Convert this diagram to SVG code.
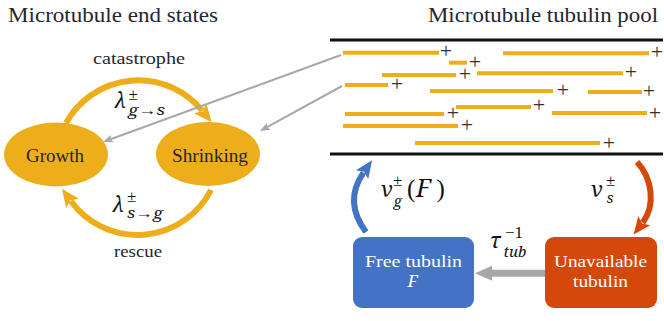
<svg xmlns="http://www.w3.org/2000/svg" width="664" height="321" viewBox="0 0 664 321">
<style>
text{font-family:'Liberation Serif',serif}
.t{fill:#1f2632}
.m{font-family:'Noto Serif','Liberation Serif',serif;font-style:italic;fill:#111}
.up{font-family:'Liberation Serif',serif;font-style:normal}
.w{fill:#fff}
.bar{stroke:#EEAE1B;stroke-width:4;fill:none}
.plus{font-size:22px;fill:#333;text-anchor:middle}
.gold{fill:#EEAE1B}
</style>
<defs>
<marker id="ahGold" viewBox="-4 -9 20 18" markerWidth="20" markerHeight="18" refX="0" refY="0" markerUnits="userSpaceOnUse" orient="auto"><path d="M -3,-8 L 15,0 L -3,8 L 1,0 z" fill="#EEAE1B"/></marker>
<marker id="ahBlue" viewBox="-4 -9 20 18" markerWidth="20" markerHeight="18" refX="0" refY="0" markerUnits="userSpaceOnUse" orient="auto"><path d="M -2.5,-7.5 L 15,0 L -2.5,7.5 L 1,0 z" fill="#4472C4"/></marker>
<marker id="ahOrange" viewBox="-4 -9 20 18" markerWidth="20" markerHeight="18" refX="0" refY="0" markerUnits="userSpaceOnUse" orient="auto"><path d="M -2.5,-7.5 L 15,0 L -2.5,7.5 L 1,0 z" fill="#D5480B"/></marker>
<marker id="ahGray" viewBox="-3 -5 12 10" markerWidth="12" markerHeight="10" refX="0" refY="0" markerUnits="userSpaceOnUse" orient="auto"><path d="M -2,-4 L 8,0 L -2,4 L 0,0 z" fill="#A8A8A8"/></marker>
<marker id="ahGrayBig" viewBox="-1 -8 19 16" markerWidth="19" markerHeight="16" refX="0" refY="0" markerUnits="userSpaceOnUse" orient="auto"><path d="M 0,-7.5 L 17,0 L 0,7.5 z" fill="#A8A8A8"/></marker>
</defs>
<rect width="664" height="321" fill="#fff"/>

<text class="t" x="8" y="22" font-size="21" textLength="210" lengthAdjust="spacingAndGlyphs">Microtubule end states</text>
<text class="t" x="428" y="22" font-size="21" textLength="230" lengthAdjust="spacingAndGlyphs">Microtubule tubulin pool</text>

<g id="tubulin-pool">
<line x1="330" y1="40" x2="663" y2="40" stroke="#111" stroke-width="3"/>
<line x1="330" y1="154" x2="663" y2="154" stroke="#111" stroke-width="3"/>
<line class="bar" x1="343" y1="52.7" x2="439" y2="52.7"/>
<line class="bar" x1="503" y1="53.3" x2="649" y2="53.3"/>
<line class="bar" x1="449" y1="62.7" x2="467" y2="62.7"/>
<line class="bar" x1="382" y1="75" x2="456" y2="75"/>
<line class="bar" x1="477" y1="73.3" x2="623" y2="73.3"/>
<line class="bar" x1="345" y1="85" x2="388" y2="85"/>
<line class="bar" x1="430" y1="91" x2="553" y2="91"/>
<line class="bar" x1="588" y1="92" x2="642" y2="92"/>
<line class="bar" x1="456" y1="107" x2="531" y2="107"/>
<line class="bar" x1="345" y1="114" x2="444" y2="114"/>
<line class="bar" x1="552" y1="113" x2="647" y2="113"/>
<line class="bar" x1="343" y1="126" x2="458" y2="126"/>
<line class="bar" x1="415" y1="143" x2="600" y2="143"/>
<text class="plus" x="446" y="57.6">+</text>
<text class="plus" x="657" y="58.6">+</text>
<text class="plus" x="475" y="68.6">+</text>
<text class="plus" x="465" y="80.6">+</text>
<text class="plus" x="631" y="78.6">+</text>
<text class="plus" x="397" y="90.6">+</text>
<text class="plus" x="563" y="96.6">+</text>
<text class="plus" x="649" y="97.6">+</text>
<text class="plus" x="539" y="111.6">+</text>
<text class="plus" x="453" y="119.6">+</text>
<text class="plus" x="655" y="119.6">+</text>
<text class="plus" x="467" y="131.6">+</text>
<text class="plus" x="609" y="149.6">+</text>
</g>

<g id="connectors" fill="none">
<path d="M 66 123 A 82.5 82.5 0 0 1 202.1 110.6" stroke="#EEAE1B" stroke-width="6" marker-end="url(#ahGold)"/>
<path d="M 211 190 A 82.5 82.5 0 0 1 70.8 201" stroke="#EEAE1B" stroke-width="6" marker-end="url(#ahGold)"/>
<line x1="341" y1="55" x2="110.5" y2="139.3" stroke="#A8A8A8" stroke-width="2" marker-end="url(#ahGray)"/>
<line x1="342" y1="86" x2="267" y2="127.2" stroke="#A8A8A8" stroke-width="2" marker-end="url(#ahGray)"/>
<path d="M 366 232 C 351 212, 350 192, 363.5 172.6" stroke="#4472C4" stroke-width="6" marker-end="url(#ahBlue)"/>
<path d="M 637 162 C 652 178, 656 205, 642.7 222.6" stroke="#D5480B" stroke-width="6" marker-end="url(#ahOrange)"/>
<line x1="545" y1="273.3" x2="492" y2="273.3" stroke="#A8A8A8" stroke-width="7" marker-end="url(#ahGrayBig)"/>
</g>

<g id="growth">
<ellipse cx="56" cy="154.5" rx="52" ry="32" class="gold"/>
<text class="t" x="55" y="162" font-size="18" text-anchor="middle" textLength="58" lengthAdjust="spacingAndGlyphs">Growth</text>
</g>
<g id="shrinking">
<ellipse cx="208" cy="154" rx="52" ry="32" class="gold"/>
<text class="t" x="210" y="162" font-size="18" text-anchor="middle" textLength="76" lengthAdjust="spacingAndGlyphs">Shrinking</text>
</g>
<g id="free-tubulin">
<rect x="353" y="237" width="121" height="71" rx="9" fill="#4472C4"/>
<text class="w" x="413.5" y="267" font-size="17.5" text-anchor="middle" textLength="97" lengthAdjust="spacingAndGlyphs">Free tubulin</text>
<text class="m w" x="412.5" y="287" font-size="17" text-anchor="middle" style="fill:#fff">F</text>
</g>
<g id="unavailable-tubulin">
<rect x="545" y="237" width="112" height="71" rx="9" fill="#D5480B"/>
<text class="w" x="600.5" y="267" font-size="17.5" text-anchor="middle" textLength="93" lengthAdjust="spacingAndGlyphs">Unavailable</text>
<text class="w" x="600.5" y="287" font-size="17.5" text-anchor="middle" textLength="55" lengthAdjust="spacingAndGlyphs">tubulin</text>
</g>

<g id="edge-labels">
<text class="t" x="139" y="64" font-size="17" text-anchor="middle" textLength="92" lengthAdjust="spacingAndGlyphs">catastrophe</text>
<text class="t" x="138" y="257" font-size="17" text-anchor="middle" textLength="48" lengthAdjust="spacingAndGlyphs">rescue</text>

<text class="m" x="114.5" y="108" font-size="21">λ<tspan class="up" x="128.5" y="99.5" font-size="17">±</tspan><tspan x="128" y="115" font-size="14" textLength="37" lengthAdjust="spacingAndGlyphs">g→s</tspan></text>

<text class="m" x="112.5" y="211.5" font-size="21">λ<tspan class="up" x="127" y="202" font-size="17">±</tspan><tspan x="127" y="218" font-size="14" textLength="36" lengthAdjust="spacingAndGlyphs">s→g</tspan></text>

<text class="m" x="381" y="197" font-size="22">v<tspan class="up" x="393" y="186" font-size="17">±</tspan><tspan x="393.5" y="206" font-size="15">g</tspan><tspan class="up" x="407" y="197" font-size="25">(</tspan><tspan x="416" y="197" font-size="25">F</tspan><tspan class="up" x="436.5" y="197" font-size="25">)</tspan></text>

<text class="m" x="591" y="197" font-size="22">v<tspan class="up" x="606" y="186" font-size="17">±</tspan><tspan x="606.5" y="203" font-size="15">s</tspan></text>

<text class="m" x="489.5" y="248" font-size="22">τ<tspan class="up" x="505" y="237.5" font-size="17">−1</tspan><tspan x="503.5" y="256.5" font-size="15">tub</tspan></text>
</g>
</svg>
